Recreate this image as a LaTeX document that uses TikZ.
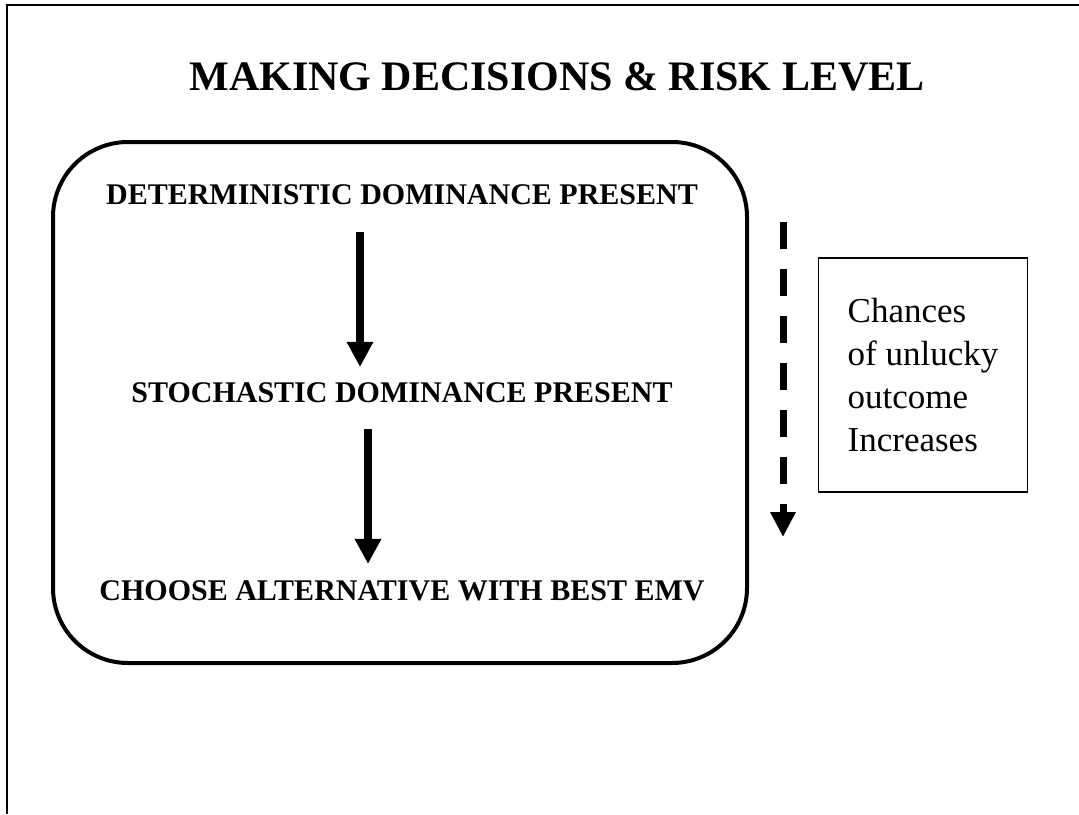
\documentclass[tikz,border=0pt]{standalone}
\usepackage{fontspec}
\setmainfont{Liberation Serif}
\usetikzlibrary{arrows.meta}

\begin{document}
\begin{tikzpicture}[x=1pt,y=1pt,
    steptext/.style={anchor=base,inner sep=0pt,font=\fontsize{30}{36}\selectfont\bfseries},
    flowarrow/.style={line width=8pt,-{Triangle[width=25pt,length=25pt]}},
    riskarrow/.style={line width=7pt,dash pattern=on 27pt off 20pt,-{Triangle[width=24pt,length=25pt]}},
    notebox/.style={draw,line width=1.6pt,inner xsep=29pt,minimum width=208pt,minimum height=234pt,
      align=left,font=\fontsize{35}{43}\selectfont}]

\useasboundingbox (0,0) rectangle (1079,-814);

%% Page frame
\draw [line width=1.5pt] (7,-814) -- (7,-5) -- (1079,-5);

%% Title
\node [anchor=base,font=\fontsize{42}{50}\selectfont\bfseries] (title) at (557,-90) {MAKING DECISIONS \& RISK LEVEL};

%% Decision steps
\draw [line width=4pt,rounded corners=75pt] (53,-142) rectangle (747,-663);
\node [steptext] (det) at (402,-204) {DETERMINISTIC DOMINANCE PRESENT};
\node [steptext] (stoch) at (402,-402) {STOCHASTIC DOMINANCE PRESENT};
\node [steptext] (emv) at (402,-600) {CHOOSE ALTERNATIVE WITH BEST EMV};

\draw [flowarrow] ([xshift=-42pt,yshift=-28pt]det.south) -- ([xshift=-42pt,yshift=15pt]stoch.north);
\draw [flowarrow] ([xshift=-34pt,yshift=-27pt]stoch.south) -- ([xshift=-34pt,yshift=16pt]emv.north);

%% Risk level
\coordinate (riskTop) at (783,-222);
\coordinate (riskEnd) at (783,-537);
\draw [riskarrow] (riskTop) -- (riskEnd);
\node [notebox] (note) at (923,-375) {Chances\\of unlucky\\outcome\\Increases};

\end{tikzpicture}
\end{document}
